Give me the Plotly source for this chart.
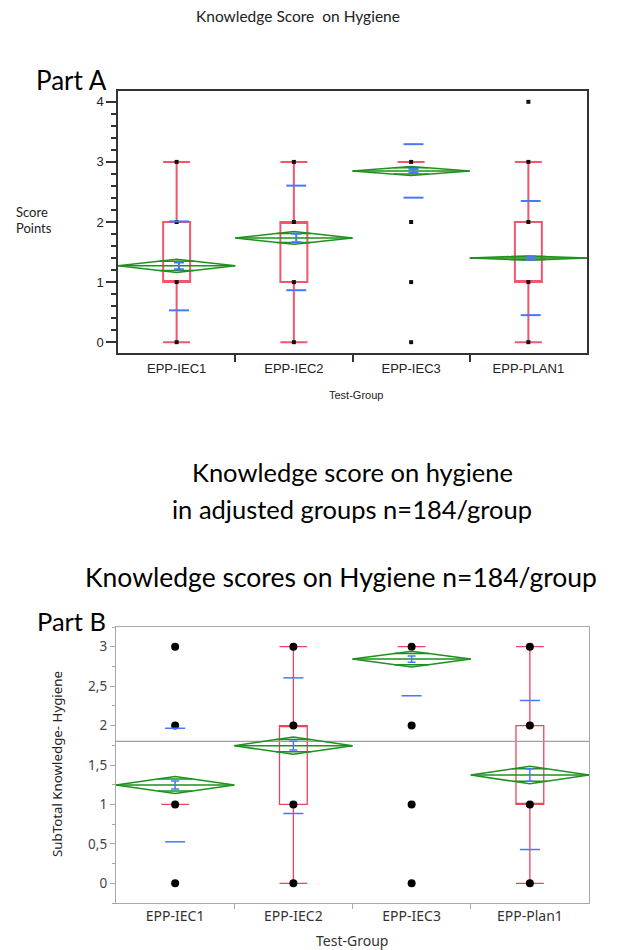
import plotly.graph_objects as go

W, H = 624, 950

# ---------------- data ----------------
groups_a = ["EPP-IEC1", "EPP-IEC2", "EPP-IEC3", "EPP-PLAN1"]
q1_a = [1, 1, 3, 1]
med_a = [1, 2, 3, 1]
q3_a = [2, 2, 3, 2]
lo_a = [0, 0, 3, 0]
hi_a = [3, 3, 3, 3]
points_a = [[0, 1, 2, 3], [0, 1, 2, 3], [0, 1, 2, 3], [0, 1, 2, 3, 4]]
mean_a = [1.27, 1.735, 2.85, 1.40]
ci_a = [0.11, 0.105, 0.075, 0.035]
se_a = [0.055, 0.07, 0.033, 0.03]
sd_a = [0.74, 0.87, 0.445, 0.95]

groups_b = ["EPP-IEC1", "EPP-IEC2", "EPP-IEC3", "EPP-Plan1"]
q1_b = [1, 1, 3, 1]
med_b = [1, 2, 3, 1]
q3_b = [1, 2, 3, 2]
lo_b = [1, 0, 3, 0]
hi_b = [1, 3, 3, 3]
points_b = [[0, 1, 2, 3], [0, 1, 2, 3], [0, 1, 2, 3], [0, 1, 2, 3]]
mean_b = [1.246, 1.745, 2.843, 1.373]
ci_b = [0.108, 0.11, 0.10, 0.112]
se_b = [0.05, 0.055, 0.04, 0.08]
sd_b = [0.72, 0.86, 0.465, 0.945]
grand_mean_b = 1.80

RED_A = "rgba(236,40,66,0.78)"
RED_B = "rgba(232,50,72,0.9)"
BLUE = "rgb(70,120,255)"
GREEN = "rgb(30,145,30)"


def diamond_path(means, cis):
    """Means diamonds: CI diamond, mean line and overlap marks."""
    xs, ys = [], []
    k = 2 ** 0.5 / 2
    for i, (m, c) in enumerate(zip(means, cis)):
        xs += [i - 0.5, i, i + 0.5, i, i - 0.5, None]
        ys += [m, m + c, m, m - c, m, None]
        xs += [i - 0.5, i + 0.5, None]
        ys += [m, m, None]
        half = 0.5 * (1 - k)
        for s in (1, -1):
            xs += [i - half, i + half, None]
            ys += [m + s * c * k, m + s * c * k, None]
    return xs, ys


def sd_path(means, sds, halfw, off):
    xs, ys = [], []
    for i, (m, s) in enumerate(zip(means, sds)):
        for v in (m + s, m - s):
            xs += [i + off - halfw, i + off + halfw, None]
            ys += [v, v, None]
    return xs, ys


def point_path(points):
    xs, ys = [], []
    for i, pts in enumerate(points):
        xs += [i] * len(pts)
        ys += pts
    return xs, ys


fig = go.Figure()

# ---------------- Part A ----------------
idx = list(range(len(groups_a)))
fig.add_trace(go.Box(
    x=idx, q1=q1_a, median=med_a, q3=q3_a, lowerfence=lo_a, upperfence=hi_a,
    width=0.23, whiskerwidth=1, boxpoints=False,
    line=dict(color=RED_A, width=2), fillcolor="rgba(0,0,0,0)",
    xaxis="x", yaxis="y", showlegend=False, hoverinfo="skip"))
px_, py_ = point_path(points_a)
fig.add_trace(go.Scatter(x=px_, y=py_, mode="markers",
                         marker=dict(symbol="square", size=4, color="#111"),
                         xaxis="x", yaxis="y", showlegend=False))
dx, dy = diamond_path(mean_a, ci_a)
fig.add_trace(go.Scatter(x=dx, y=dy, mode="lines",
                         line=dict(color=GREEN, width=1.5),
                         xaxis="x", yaxis="y", showlegend=False))
sx, sy = sd_path(mean_a, sd_a, 0.085, 0.02)
fig.add_trace(go.Scatter(x=sx, y=sy, mode="lines",
                         line=dict(color=BLUE, width=2),
                         xaxis="x", yaxis="y", showlegend=False))
fig.add_trace(go.Scatter(x=[i + 0.02 for i in idx], y=mean_a, mode="markers",
                         marker=dict(size=1, color="rgba(0,0,0,0)"),
                         error_y=dict(type="data", array=se_a, color=BLUE,
                                      thickness=2, width=5),
                         xaxis="x", yaxis="y", showlegend=False))

# ---------------- Part B ----------------
fig.add_trace(go.Scatter(x=[-0.5, len(groups_b) - 0.5],
                         y=[grand_mean_b, grand_mean_b], mode="lines",
                         line=dict(color="#a0a0a0", width=1.3),
                         xaxis="x2", yaxis="y2", showlegend=False))
fig.add_trace(go.Box(
    x=idx, q1=q1_b, median=med_b, q3=q3_b, lowerfence=lo_b, upperfence=hi_b,
    width=0.235, whiskerwidth=1, boxpoints=False,
    line=dict(color=RED_B, width=1.3), fillcolor="rgba(0,0,0,0)",
    xaxis="x2", yaxis="y2", showlegend=False, hoverinfo="skip"))
px_, py_ = point_path(points_b)
fig.add_trace(go.Scatter(x=px_, y=py_, mode="markers",
                         marker=dict(symbol="circle", size=8, color="#000"),
                         xaxis="x2", yaxis="y2", showlegend=False))
dx, dy = diamond_path(mean_b, ci_b)
fig.add_trace(go.Scatter(x=dx, y=dy, mode="lines",
                         line=dict(color=GREEN, width=1.5),
                         xaxis="x2", yaxis="y2", showlegend=False))
sx, sy = sd_path(mean_b, sd_b, 0.085, 0.0)
fig.add_trace(go.Scatter(x=sx, y=sy, mode="lines",
                         line=dict(color=BLUE, width=1.5),
                         xaxis="x2", yaxis="y2", showlegend=False))
fig.add_trace(go.Scatter(x=idx, y=mean_b, mode="markers",
                         marker=dict(size=1, color="rgba(0,0,0,0)"),
                         error_y=dict(type="data", array=se_b, color=BLUE,
                                      thickness=1.5, width=4),
                         xaxis="x2", yaxis="y2", showlegend=False))


def fx(p):
    return p / W


def fy(p):
    return 1 - p / H


ARIAL = "Liberation Sans, Arial, sans-serif"
CAL = "Lato, sans-serif"
SEGOE = "Noto Sans, sans-serif"

annotations = [
    dict(text="Knowledge Score \u00a0on Hygiene", x=fx(298), y=fy(16),
         font=dict(family=CAL, size=15.5, color="#222")),
    dict(text="Part A", x=fx(71), y=fy(80), font=dict(family=CAL, size=26, color="#000")),
    dict(text="Score", x=fx(14), y=fy(212), xanchor="left",
         font=dict(family=CAL, size=13, color="#222")),
    dict(text="Points", x=fx(14), y=fy(228), xanchor="left",
         font=dict(family=CAL, size=13, color="#222")),
    dict(text="Test-Group", x=fx(356), y=fy(395),
         font=dict(family=ARIAL, size=11, color="#222")),
    dict(text="Knowledge score on hygiene", x=fx(352), y=fy(472),
         font=dict(family=CAL, size=25.5, color="#000")),
    dict(text="in adjusted groups n=184/group", x=fx(352), y=fy(509),
         font=dict(family=CAL, size=25.5, color="#000")),
    dict(text="Knowledge scores on Hygiene n=184/group", x=fx(341), y=fy(577),
         font=dict(family=CAL, size=26.5, color="#000")),
    dict(text="Part B", x=fx(71), y=fy(621), font=dict(family=CAL, size=25.5, color="#000")),
    dict(text="SubTotal Knowledge- Hygiene", x=fx(57), y=fy(764), textangle=-90,
         font=dict(family=SEGOE, size=13.3, color="#222")),
    dict(text="Test-Group", x=fx(352), y=fy(940),
         font=dict(family=SEGOE, size=14, color="#333")),
]
for a in annotations:
    a.setdefault("xanchor", "center")
    a.update(xref="paper", yref="paper", yanchor="middle", showarrow=False)

fig.update_layout(
    width=W, height=H, autosize=False,
    margin=dict(l=0, r=0, t=0, b=0),
    paper_bgcolor="white", plot_bgcolor="white",
    separators=", ",
    showlegend=False,
    annotations=annotations,
    xaxis=dict(domain=[fx(118), fx(587)], range=[-0.5, 3.5], anchor="y",
               tickmode="array", tickvals=idx, ticktext=groups_a, ticks="",
               showline=True, linecolor="#333", linewidth=1.5, mirror=True,
               showgrid=False, zeroline=False, ticklabelstandoff=3,
               tickfont=dict(family=ARIAL, size=13, color="#222"),
               minor=dict(tickmode="array", tickvals=[0.5, 1.5, 2.5], ticks="outside",
                          ticklen=7, tickcolor="#333", tickwidth=1.5)),
    yaxis=dict(domain=[fy(353), fy(91)], range=[-0.18, 4.18], anchor="x",
               tickmode="linear", tick0=0, dtick=1, ticks="outside", ticklen=10,
               tickwidth=1.5, tickcolor="#333",
               showline=True, linecolor="#333", linewidth=1.5, mirror=True,
               showgrid=False, zeroline=False,
               tickfont=dict(family=ARIAL, size=13, color="#222"),
               minor=dict(tick0=0, dtick=0.2, ticks="outside", ticklen=5,
                          tickcolor="#333", tickwidth=1.5)),
    xaxis2=dict(domain=[fx(116), fx(589)], range=[-0.5, 3.5], anchor="y2",
                tickmode="array", tickvals=idx, ticktext=groups_b, ticks="",
                showline=True, linecolor="#a8a8a8", linewidth=1.3, mirror=True,
                showgrid=False, zeroline=False,
                tickfont=dict(family=SEGOE, size=14, color="#333"),
                minor=dict(tickmode="array", tickvals=[0.5, 1.5, 2.5], ticks="outside",
                           ticklen=5, tickcolor="#a8a8a8", tickwidth=1)),
    yaxis2=dict(domain=[fy(903), fy(627)], range=[-0.25, 3.25], anchor="x2",
                tickmode="linear", tick0=0, dtick=0.5, ticks="outside", ticklen=5,
                tickwidth=1, tickcolor="#a8a8a8",
                showline=True, linecolor="#a8a8a8", linewidth=1.3, mirror=True,
                showgrid=False, zeroline=False,
                tickfont=dict(family=SEGOE, size=13.5, color="#444"),
                minor=dict(tick0=0, dtick=0.25, ticks="outside", ticklen=3,
                           tickcolor="#a8a8a8", tickwidth=1)),
)

fig.write_html("out.html")
